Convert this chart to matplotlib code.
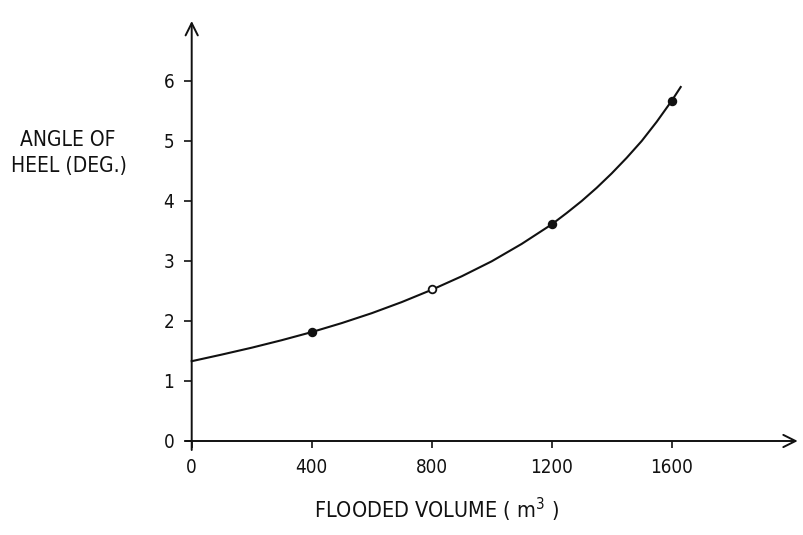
import matplotlib
matplotlib.use("Agg")
import matplotlib.pyplot as plt

# -------------------- DATA --------------------
volume = [400, 800, 1200, 1600]            # flooded volume (m3)
heel = [1.82, 2.53, 3.62, 5.67]            # measured angle of heel (deg)
point_filled = [True, False, True, True]

# faired curve through the measurements
curve_volume = [0, 100, 200, 300, 400, 500, 600, 700, 800, 900, 1000, 1100,
                1200, 1250, 1300, 1350, 1400, 1450, 1500, 1550, 1600, 1630]
curve_heel = [1.33, 1.44, 1.555, 1.68, 1.815, 1.965, 2.13, 2.315, 2.52,
              2.745, 2.995, 3.285, 3.61, 3.80, 4.00, 4.22, 4.46, 4.72,
              5.00, 5.32, 5.67, 5.90]

x_ticks = [0, 400, 800, 1200, 1600]
y_ticks = [0, 1, 2, 3, 4, 5, 6]

# -------------------- STYLE --------------------
INK = "#111111"
plt.rcParams["font.family"] = ["DejaVu Sans"]
plt.rcParams["font.stretch"] = "condensed"

W, H = 804, 535
fig = plt.figure(figsize=(W / 100, H / 100), dpi=100)
ax = fig.add_axes([179.7 / W, (H - 459) / H, 621 / W, 444 / H])
ax.set_xlim(-40, 2030)
ax.set_ylim(-0.3, 7.1)

for side in ["top", "right", "left", "bottom"]:
    ax.spines[side].set_visible(False)
ax.spines["left"].set_position(("data", 0))
ax.spines["bottom"].set_position(("data", 0))

# axes drawn as arrows
arrow = dict(arrowstyle="->", lw=1.4, color=INK, mutation_scale=22,
             shrinkA=0, shrinkB=0)
ax.annotate("", xy=(2020, 0), xytext=(-20, 0), arrowprops=arrow)
ax.annotate("", xy=(0, 7.0), xytext=(0, -0.15), arrowprops=arrow)

ax.set_xticks(x_ticks)
ax.set_xticklabels([str(v) for v in x_ticks])
ax.set_yticks(y_ticks)
ax.set_yticklabels([str(v) for v in y_ticks])
ax.tick_params(axis="x", direction="out", length=5, width=1.2, pad=7,
               labelsize=13.5, colors=INK)
ax.tick_params(axis="y", direction="out", length=5.5, width=1.2, pad=7,
               labelsize=13.5, colors=INK)

# curve and data points
ax.plot(curve_volume, curve_heel, color=INK, lw=1.5, zorder=3)
for v, h, filled in zip(volume, heel, point_filled):
    ax.plot(v, h, "o", ms=5.5, mec=INK, mew=1.3,
            mfc=INK if filled else "white", zorder=4)

# axis titles
fig.text(68 / W, 1 - 140 / H, "ANGLE OF", ha="center", va="center",
         fontsize=15, color=INK)
fig.text(69 / W, 1 - 166 / H, "HEEL (DEG.)", ha="center", va="center",
         fontsize=15, color=INK)
fig.text(436 / W, 1 - 510 / H, "FLOODED VOLUME ( m$^3$ )", ha="center",
         va="center", fontsize=15.5, color=INK)

fig.savefig("out.png", dpi=100)
